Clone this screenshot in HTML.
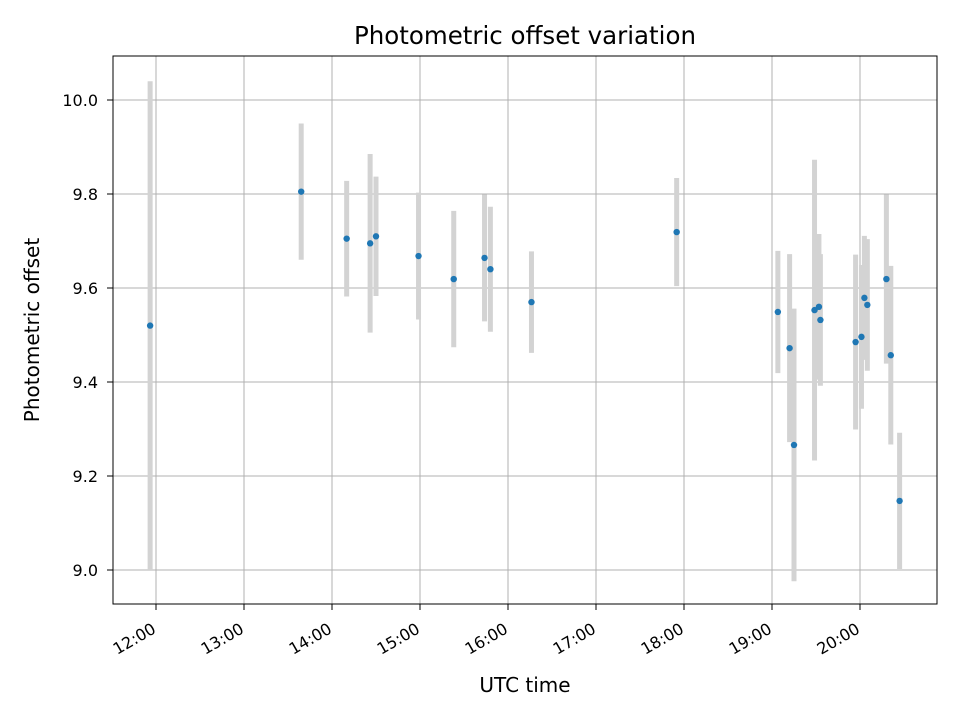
<!DOCTYPE html>
<html><head><meta charset="utf-8"><style>
body{margin:0;background:#fff;}
svg text{font-family:"DejaVu Sans","Liberation Sans",sans-serif;fill:#000;}
</style></head><body>
<svg id="chart" width="960" height="720" viewBox="0 0 960 720" xmlns="http://www.w3.org/2000/svg">
<rect width="960" height="720" fill="#fff"/>
<g id="grid"></g>
<g id="marks"></g>
<rect x="113" y="56" width="824" height="548" fill="none" stroke="#000" stroke-width="1"/>
<g id="axes"></g>
<text x="525" y="44" text-anchor="middle" style="font-size:24.5px">Photometric offset variation</text>
<text x="525" y="692" text-anchor="middle" style="font-size:20px">UTC time</text>
<text x="39" y="330" text-anchor="middle" style="font-size:20px" transform="rotate(-90 39 330)">Photometric offset</text>
</svg>
<script>
const times=["11:56","13:39","14:10","14:26","14:30","14:59","15:23","15:44","15:48","16:16","17:55","19:04","19:12","19:15","19:29","19:32","19:33","19:57","20:01","20:03","20:05","20:18","20:21","20:27"];
const offsets=[9.52,9.805,9.705,9.695,9.71,9.668,9.619,9.664,9.64,9.57,9.719,9.549,9.472,9.266,9.553,9.56,9.532,9.485,9.496,9.579,9.564,9.619,9.457,9.147];
const errors=[0.52,0.145,0.123,0.19,0.127,0.135,0.145,0.135,0.133,0.108,0.115,0.13,0.2,0.29,0.32,0.155,0.14,0.186,0.153,0.132,0.14,0.18,0.19,0.145];
const yTicks=[9.0,9.2,9.4,9.6,9.8,10.0];
const xTickLabels=["12:00","13:00","14:00","15:00","16:00","17:00","18:00","19:00","20:00"];
const NS="http://www.w3.org/2000/svg";
function hrs(s){const p=s.split(":");return +p[0]+(+p[1])/60;}
function xs(h){return 156+(h-12)*88;}
function ys(v){return 100+(10-v)*470;}
function mk(tag,attrs,parent){const e=document.createElementNS(NS,tag);for(const k in attrs)e.setAttribute(k,attrs[k]);parent.appendChild(e);return e;}
const grid=document.getElementById('grid'),axes=document.getElementById('axes'),marks=document.getElementById('marks');
yTicks.forEach(v=>{const y=ys(v);
 let g=mk('line',{x1:113,x2:937,y1:y,y2:y,stroke:'#b0b0b0','stroke-width':1},grid);
 
 let t=mk('line',{x1:107,x2:113,y1:y,y2:y,stroke:'#000'},axes);
 
 let l=mk('text',{x:98,y:y+6,'text-anchor':'end',style:'font-size:16px'},axes);l.textContent=v.toFixed(1);
 
});
xTickLabels.forEach(s=>{const x=xs(hrs(s));
 let g=mk('line',{x1:x,x2:x,y1:56,y2:604,stroke:'#b0b0b0','stroke-width':1},grid);
 
 let t=mk('line',{x1:x,x2:x,y1:604,y2:610,stroke:'#000'},axes);
 
 let l=mk('text',{x:x+1,y:632,'text-anchor':'end',style:'font-size:16px',transform:'rotate(-30 '+(x+1)+' 632)'},axes);l.textContent=s;
 
});
times.forEach((s,i)=>{const x=xs(hrs(s));
 let e=mk('line',{x1:x,x2:x,y1:ys(offsets[i]+errors[i]),y2:ys(offsets[i]-errors[i]),stroke:'#d3d3d3','stroke-width':5},marks);
 
});
times.forEach((s,i)=>{const x=xs(hrs(s));
 let c=mk('circle',{cx:x,cy:ys(offsets[i]),r:3.2,fill:'#1f77b4'},marks);
 
});
</script>
</body></html>
